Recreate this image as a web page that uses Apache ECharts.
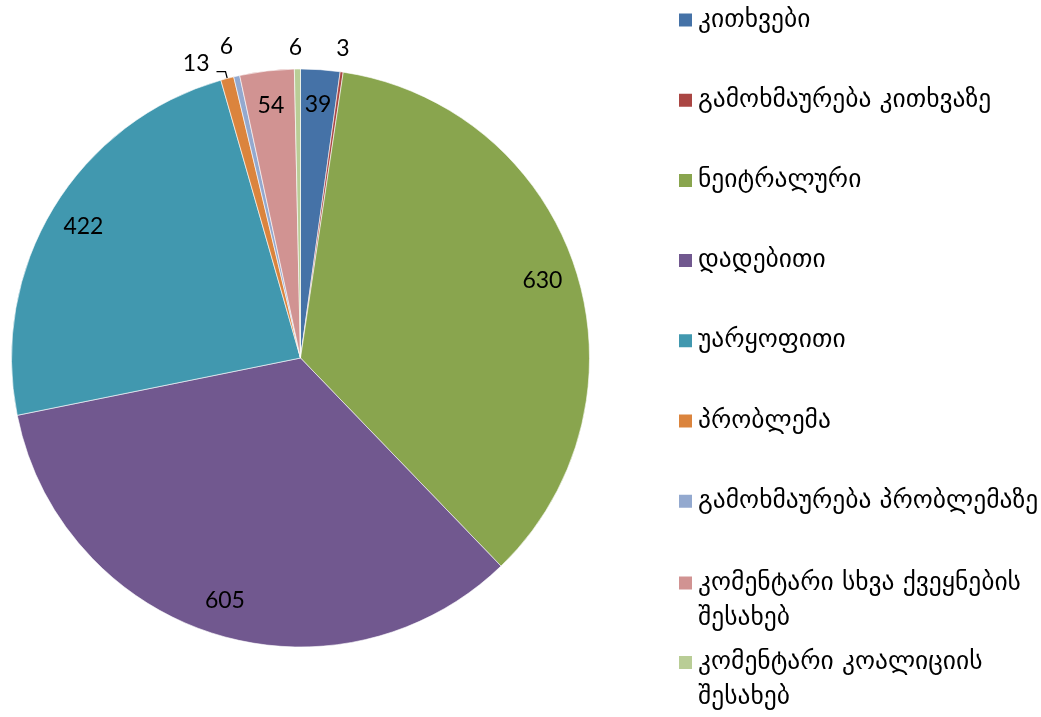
<!DOCTYPE html>
<html>
<head>
<meta charset="utf-8">
<script src="https://cdn.jsdelivr.net/npm/echarts@6/dist/echarts.min.js"></script>
<style>
html,body{margin:0;padding:0;background:#fff;}
#chart{width:1041px;height:717px;}
</style>
</head>
<body>
<div id="chart"></div>
<script>
const categories = [
  'კითხვები',
  'გამოხმაურება კითხვაზე',
  'ნეიტრალური',
  'დადებითი',
  'უარყოფითი',
  'პრობლემა',
  'გამოხმაურება პრობლემაზე',
  'კომენტარი სხვა ქვეყნების შესახებ',
  'კომენტარი კოალიციის შესახებ'
];
const values = [39, 3, 630, 605, 422, 13, 6, 54, 6];
const colors = ['#4572A7', '#AA4643', '#89A54E', '#71588F', '#4198AF', '#DB843D', '#93A9CF', '#D19392', '#B9CD96'];
const insideLabelIdx = [0, 2, 3, 4, 7];

const labelFont = 'Lato, "Open Sans", sans-serif';
const legendFont = '"DejaVu Sans", "Noto Sans", sans-serif';
const legendSize = 25.5;
const legendLine = 35;

// outside-label settings for the small slices
const outsideLabels = {
  1: {length: 24, length2: 0, dist: -9, showLine: false, raise: false},
  5: {length: 7, length2: 9, dist: 7, showLine: true, raise: true},
  6: {length: 30, length2: 0, dist: -3, showLine: false, raise: false},
  8: {length: 21, length2: 0, dist: -5, showLine: false, raise: false}
};

const mainData = categories.map((name, i) => {
  const o = outsideLabels[i];
  const item = {name: name, value: values[i], itemStyle: {color: colors[i]}};
  if (o) {
    item.label = {show: true, position: 'outside', distanceToLabelLine: o.dist};
    if (o.raise) {
      item.label.formatter = '{c}\n';
      item.label.lineHeight = 16;
    }
    item.labelLine = {show: o.showLine, length: o.length, length2: o.length2};
  } else {
    item.label = {show: false};
    item.labelLine = {show: false};
  }
  return item;
});

const ringData = categories.map((name, i) => ({
  name: name,
  value: values[i],
  itemStyle: {color: 'rgba(0,0,0,0)'},
  label: {show: insideLabelIdx.indexOf(i) >= 0}
}));

function wrapName(n) {
  return n.replace(' შესახებ', '\nშესახებ');
}

const legendText = {fontFamily: legendFont, fontSize: legendSize, color: '#000', lineHeight: legendLine};

const option = {
  animation: false,
  backgroundColor: '#fff',
  color: colors,
  legend: [
    {
      orient: 'vertical', left: 677, top: 2.5, padding: 0,
      itemWidth: 15, itemHeight: 15, icon: 'rect', itemGap: 45.2,
      selectedMode: false, formatter: wrapName, textStyle: legendText,
      data: categories.slice(0, 7)
    },
    {
      // two-line entries: the swatch sits beside the first line
      orient: 'vertical', left: 677, top: 565.5, padding: 0,
      itemWidth: 15, itemHeight: 15 + legendLine,
      icon: 'path://M0,0L15,0L15,15L0,15Z M0,50',
      itemGap: 9.5,
      selectedMode: false, formatter: wrapName, textStyle: legendText,
      data: categories.slice(7)
    }
  ],
  series: [
    {
      type: 'pie',
      center: [300.5, 358],
      radius: [0, 289],
      startAngle: 90,
      clockwise: true,
      avoidLabelOverlap: false,
      minShowLabelAngle: 0,
      emphasis: {disabled: true},
      itemStyle: {borderColor: '#fff', borderWidth: 0.6},
      label: {fontFamily: labelFont, fontSize: 23, color: '#000', formatter: '{c}'},
      labelLine: {lineStyle: {color: '#000', width: 1.3}, smooth: false},
      data: mainData
    },
    {
      type: 'pie',
      center: [300.5, 358],
      radius: [212, 290],
      startAngle: 90,
      clockwise: true,
      silent: true,
      avoidLabelOverlap: false,
      emphasis: {disabled: true},
      label: {position: 'inside', fontFamily: labelFont, fontSize: 23, color: '#000', formatter: '{c}'},
      labelLine: {show: false},
      data: ringData
    }
  ]
};

const chart = echarts.init(document.getElementById('chart'), null, {renderer: 'canvas'});
chart.setOption(option);
</script>
</body>
</html>
